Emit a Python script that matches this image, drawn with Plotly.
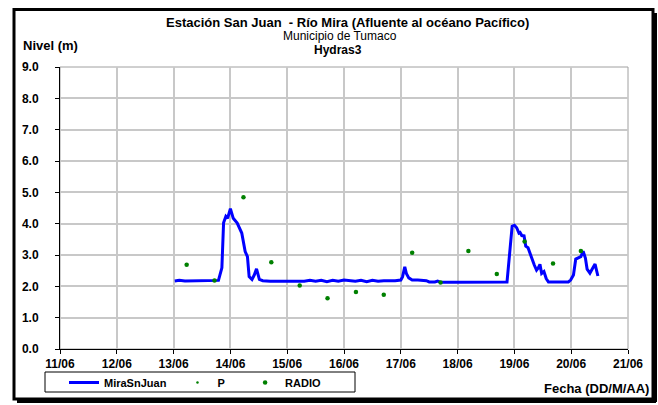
import pandas as pd
import plotly.graph_objects as go

# ---- data (day of June, fractional) ----
nivel_dia = [13.02, 13.10, 13.20, 13.40, 13.60, 13.79, 13.85, 13.88, 13.92, 13.95, 14.00, 14.05, 14.12,
             14.20, 14.26, 14.30, 14.33, 14.38, 14.42, 14.46, 14.51, 14.57, 14.70,
             14.90, 15.10, 15.30, 15.40, 15.50, 15.60, 15.70, 15.80, 15.90, 16.00, 16.10, 16.20,
             16.30, 16.40, 16.50, 16.60, 16.70, 16.80, 16.90, 17.00, 17.03, 17.07, 17.10, 17.14,
             17.20, 17.30, 17.45, 17.50, 17.60, 17.65, 17.70, 18.00, 18.50, 18.87, 18.96, 19.00,
             19.04, 19.08, 19.10, 19.13, 19.17, 19.20, 19.24, 19.29, 19.35, 19.39, 19.42, 19.45,
             19.48, 19.52, 19.56, 19.60, 19.80, 19.95, 19.99, 20.04, 20.08, 20.13, 20.17, 20.21,
             20.25, 20.28, 20.33, 20.37, 20.42, 20.47]
nivel_m = [2.17, 2.19, 2.17, 2.17, 2.17, 2.19, 2.59, 4.03, 4.23, 4.17, 4.48, 4.17, 4.02,
           3.70, 3.11, 2.95, 2.31, 2.22, 2.36, 2.56, 2.22, 2.18, 2.16,
           2.16, 2.16, 2.16, 2.19, 2.16, 2.19, 2.15, 2.19, 2.16, 2.20, 2.17, 2.16,
           2.19, 2.15, 2.19, 2.16, 2.18, 2.17, 2.18, 2.20, 2.30, 2.62, 2.40, 2.27,
           2.20, 2.20, 2.18, 2.14, 2.14, 2.17, 2.13, 2.13, 2.13, 2.14, 3.92, 3.95,
           3.87, 3.70, 3.72, 3.62, 3.61, 3.28, 3.23, 2.96, 2.68, 2.52, 2.59, 2.70,
           2.41, 2.47, 2.25, 2.14, 2.14, 2.14, 2.20, 2.36, 2.87, 2.92, 2.95, 3.12,
           2.90, 2.55, 2.42, 2.55, 2.71, 2.33]

radio_dia = [13.23, 13.72, 14.23, 14.72, 15.22, 15.71, 16.21, 16.70, 17.20, 17.70,
             18.19, 18.69, 19.18, 19.68, 20.17]
radio_m = [2.69, 2.19, 4.84, 2.77, 2.03, 1.62, 1.82, 1.73, 3.07, 2.12,
           3.13, 2.39, 3.43, 2.73, 3.13]

# P readings sit under the RADIO dots
p_dia = [13.23, 13.72, 14.23, 14.72, 15.22, 15.71, 16.21, 16.70, 17.20, 17.70,
         18.19, 18.69, 19.18, 19.68, 20.17]
p_m = [2.69, 2.19, 4.84, 2.77, 2.03, 1.62, 1.82, 1.73, 3.07, 2.12,
       3.13, 2.39, 3.43, 2.73, 3.13]

x_ticks = ["11/06", "12/06", "13/06", "14/06", "15/06", "16/06", "17/06", "18/06", "19/06", "20/06", "21/06"]
y_ticks = ["0.0", "1.0", "2.0", "3.0", "4.0", "5.0", "6.0", "7.0", "8.0", "9.0"]

base = pd.Timestamp("2010-06-01")
def to_dt(days):
    return [base + pd.Timedelta(days=d - 1) for d in days]

FONT = "Liberation Sans, Arial, sans-serif"
W, H = 658, 405
L, R, T, B = 60, 628, 67, 349  # plot area in px

def px(x):
    return (x - L) / (R - L)
def py(y):
    return (B - y) / (B - T)

NB = "\u00a0"
fig = go.Figure()
fig.add_trace(go.Scatter(x=to_dt(nivel_dia), y=nivel_m, mode="lines", name="<b>MiraSnJuan</b>" + NB * 2,
                         line=dict(color="#0000ff", width=3)))
fig.add_trace(go.Scatter(x=to_dt(p_dia), y=p_m, mode="markers", name="<b>P</b>" + NB * 5,
                         marker=dict(color="#008000", size=2.5)))
fig.add_trace(go.Scatter(x=to_dt(radio_dia), y=radio_m, mode="markers", name="<b>RADIO</b>",
                         marker=dict(color="#008000", size=4.5)))

tickvals = [base + pd.Timedelta(days=d - 1) for d in range(11, 22)]

shapes = [
    dict(type="rect", xref="paper", yref="paper", x0=0, x1=1, y0=0, y1=1,
         line=dict(color="#a0a0a0", width=1), layer="below"),
    dict(type="line", xref="paper", yref="paper", x0=px(655.5), x1=px(655.5), y0=py(13), y1=py(402),
         line=dict(color="black", width=3)),
    dict(type="line", xref="paper", yref="paper", x0=px(17), x1=px(656), y0=py(401.5), y1=py(401.5),
         line=dict(color="black", width=3)),
    dict(type="rect", xref="paper", yref="paper", x0=px(14), x1=px(653), y0=py(399), y1=py(9.5),
         line=dict(color="black", width=3)),
    dict(type="rect", xref="paper", yref="paper", x0=px(45), x1=px(355), y0=py(392), y1=py(372),
         line=dict(color="black", width=1)),
]

def ann(text, x, y, size, xanchor="center"):
    return dict(text=text, x=px(x), y=py(y), xref="paper", yref="paper", showarrow=False,
                xanchor=xanchor, yanchor="middle",
                font=dict(size=size, color="black", family=FONT))

annotations = [
    ann("<b>Estación San Juan  - Río Mira (Afluente al océano Pacífico)</b>", 347, 22, 13),
    ann("Municipio de Tumaco", 340, 36, 12),
    ann("<b>Hydras3</b>", 338, 50, 12),
    ann("<b>Nivel (m)</b>", 21, 45, 13, "left"),
    ann("<b>Fecha (DD/M/AA)</b>", 651, 388, 13, "right"),
]

fig.update_layout(
    width=W, height=H,
    margin=dict(l=L, r=W - R, t=T, b=H - B, autoexpand=False),
    paper_bgcolor="white", plot_bgcolor="white",
    font=dict(family=FONT, size=11, color="black"),
    showlegend=True,
    legend=dict(orientation="h", x=px(64), y=py(368), xanchor="left", yanchor="top",
                bgcolor="rgba(0,0,0,0)", font=dict(size=11, family=FONT),
                itemwidth=30, tracegroupgap=0),
    shapes=shapes,
    annotations=annotations,
    xaxis=dict(type="date", range=[tickvals[0], tickvals[-1]], tickvals=tickvals,
               ticktext=[f"<b>{t}</b>" for t in x_ticks], automargin=False,
               showgrid=True, gridcolor="#c8c8c8", gridwidth=1.5,
               showline=True, linecolor="black", linewidth=1,
               ticks="outside", ticklen=4, tickcolor="black", zeroline=False,
               tickfont=dict(size=12, family=FONT)),
    yaxis=dict(range=[0, 9], tickvals=list(range(0, 10)), automargin=False,
               ticktext=[f"<b>{t}</b>" for t in y_ticks],
               showgrid=True, gridcolor="#c8c8c8", gridwidth=1.5,
               showline=True, linecolor="black", linewidth=1,
               ticks="outside", ticklen=4, tickcolor="black", zeroline=False,
               ticklabelstandoff=14, tickfont=dict(size=12, family=FONT)),
)

fig.write_html("out.html", config={"displayModeBar": False},
               post_script="document.body.style.margin='0';document.body.style.overflow='hidden';"
                           "document.documentElement.style.overflow='hidden';")
